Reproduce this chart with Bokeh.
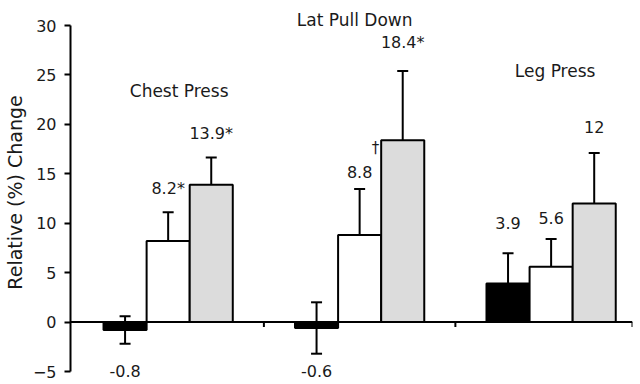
from bokeh.plotting import figure
from bokeh.models import ColumnDataSource, Range1d, FixedTicker, Span, Whisker, TeeHead
from bokeh.core.properties import value
from bokeh.embed import file_html
from bokeh.resources import INLINE

# ---- data ----
categories = ["Chest Press", "Lat Pull Down", "Leg Press"]
black_vals = [-0.8, -0.6, 3.9]
white_vals = [8.2, 8.8, 5.6]
gray_vals = [13.9, 18.4, 12.0]
black_err = [1.4, 2.6, 3.05]
white_err = [2.9, 4.65, 2.8]
gray_err = [2.75, 7.0, 5.1]
black_labels = ["-0.8", "-0.6", "3.9"]
white_labels = ["8.2*", "8.8", "5.6"]
gray_labels = ["13.9*", "18.4*", "12"]
y_ticks = [-5, 0, 5, 10, 15, 20, 25, 30]
y_label = "Relative (%) Change"

# ---- styling ----
FONT = "DejaVu Sans"
series_fill = ["#000000", "#ffffff", "#dcdcdc"]
bar_w = 0.225
offsets = [-bar_w, 0.0, bar_w]
label_gap_px = [[34, 24, 23], [17, 10, 14], [17, 21, 19]]
text_dy = -7
title_y = [22.66, 29.87, 24.68]
title_dx_px = [11, -5, 4]
x_start, x_end = -0.01, 2.925
y_start, y_end = -6.315, 32.53

series = [
    (black_vals, black_err, black_labels),
    (white_vals, white_err, white_labels),
    (gray_vals, gray_err, gray_labels),
]

xs, tops, fills, lower, upper = [], [], [], [], []
lx, ly, ltext, loff = [], [], [], []
for s, (vals, errs, labs) in enumerate(series):
    for i, v in enumerate(vals):
        x = i + 0.5 + offsets[s]
        e = errs[i]
        xs.append(x)
        tops.append(v)
        fills.append(series_fill[s])
        lower.append(v - e)
        upper.append(v + e)
        lx.append(x)
        ltext.append(labs[i])
        if v >= 0:
            ly.append(v + e)
            loff.append(-label_gap_px[s][i] + text_dy)
        else:
            ly.append(v - e)
            loff.append(label_gap_px[s][i] + text_dy)

bars = ColumnDataSource(dict(x=xs, top=tops, fill=fills, lower=lower, upper=upper))
labels = ColumnDataSource(dict(x=lx, y=ly, text=ltext, yoff=loff))

p = figure(width=640, height=384, output_backend="svg", toolbar_location=None,
           x_range=Range1d(x_start, x_end), y_range=Range1d(y_start, y_end),
           x_axis_location=None, title=None,
           min_border_left=70, min_border_right=8, min_border_top=0, min_border_bottom=0)
p.outline_line_color = None
p.xgrid.visible = False
p.ygrid.visible = False
p.background_fill_color = "white"

p.vbar(x="x", top="top", bottom=0, width=bar_w, source=bars,
       fill_color="fill", line_color="black", line_width=2)

whisk = Whisker(source=bars, base="x", lower="lower", upper="upper",
                line_color="black", line_width=2,
                upper_head=TeeHead(size=11, line_width=2, line_color="black"),
                lower_head=TeeHead(size=11, line_width=2, line_color="black"))
p.add_layout(whisk)

# x axis line at zero with boundary ticks
p.add_layout(Span(location=0, dimension="width", line_color="black", line_width=2))
boundaries = [float(b) for b in range(1, len(categories))] + [x_end]
p.segment(x0=boundaries, y0=[0] * len(boundaries), x1=boundaries, y1=[-0.5] * len(boundaries),
          line_color="black", line_width=2)

# value labels
p.text(x="x", y="y", text="text", y_offset="yoff", source=labels,
       text_font=value(FONT), text_font_size="16px", text_color="#1a1a1a",
       text_align="center", text_baseline="alphabetic")

# dagger next to Lat Pull Down gray bar
dag_i = 1
p.text(x=[dag_i + 0.5 + offsets[2] - bar_w / 2], y=[gray_vals[dag_i]], text=["\u2020"],
       x_offset=-2, y_offset=8, text_font=value(FONT), text_font_size="15px",
       text_color="#1a1a1a", text_align="right", text_baseline="middle")

# group titles
p.text(x=[i + 0.5 for i in range(len(categories))], y=title_y, text=categories,
       x_offset=title_dx_px, y_offset=text_dy, text_font=value(FONT), text_font_size="17px",
       text_color="#1a1a1a", text_align="center", text_baseline="alphabetic")

# y axis
ax = p.yaxis[0]
ax.ticker = FixedTicker(ticks=y_ticks)
ax.bounds = (y_ticks[0], y_ticks[-1])
ax.axis_line_width = 2
ax.axis_line_color = "black"
ax.major_tick_line_width = 2
ax.major_tick_out = 6
ax.major_tick_in = 0
ax.minor_tick_line_color = None
ax.major_label_standoff = 8
ax.major_label_text_font = FONT
ax.major_label_text_font_size = "16px"
ax.major_label_text_color = "#1a1a1a"
ax.axis_label = y_label
ax.axis_label_standoff = 4
ax.axis_label_text_font = FONT
ax.axis_label_text_font_size = "19px"
ax.axis_label_text_font_style = "normal"
ax.axis_label_text_color = "#1a1a1a"

open("out.html", "w").write(file_html(p, INLINE))
